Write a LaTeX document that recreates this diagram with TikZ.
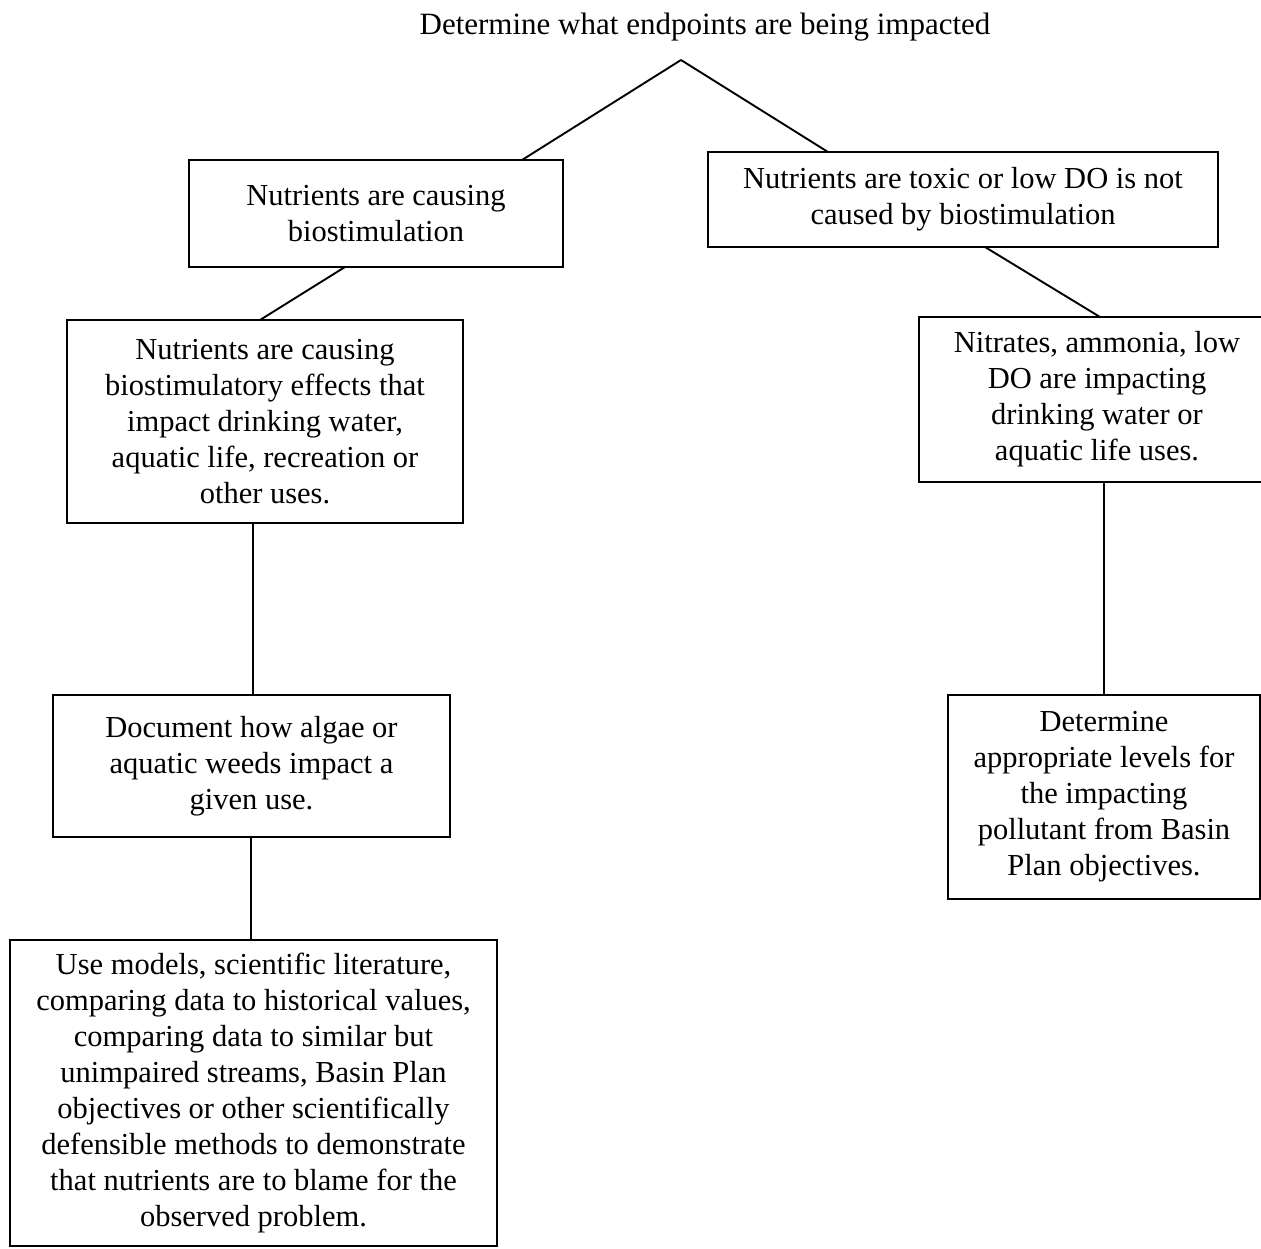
\documentclass[tikz,border=0pt]{standalone}
\usepackage{fontspec}
\setmainfont{Liberation Serif}
\begin{document}
\begin{tikzpicture}[x=1pt,y=-1pt,
  box/.style={draw=black, line width=1.9pt, rectangle, inner sep=0pt, outer sep=0pt, align=center,
    font=\fontsize{30.5}{36}\selectfont},
  link/.style={draw=black, line width=1.9pt},
  titletext/.style={inner sep=0pt, font=\fontsize{31}{36}\selectfont}]
\clip (0,0) rectangle (1261,1248);
\fill[white] (0,0) rectangle (1261,1248);
\node[titletext] (title) at (705,27) {Determine what endpoints are being impacted};
\coordinate (apex) at (681,60);
\node[box, minimum width=374pt, minimum height=107pt] (b1) at (376,213.5)
  {Nutrients are causing\\biostimulation};
\node[box, minimum width=510pt, minimum height=95pt] (b2) at (963,199.5)
  {Nutrients are toxic or low DO is not\\caused by biostimulation};
\node[box, minimum width=396pt, minimum height=203pt] (b3) at (265,421.5)
  {Nutrients are causing\\biostimulatory effects that\\impact drinking water,\\aquatic life, recreation or\\other uses.};
\node[box, minimum width=356pt, minimum height=165pt] (b4) at (1097,399.5)
  {Nitrates, ammonia, low\\DO are impacting\\drinking water or\\aquatic life uses.};
\node[box, minimum width=397pt, minimum height=142pt] (b5) at (251.5,766)
  {Document how algae or\\aquatic weeds impact a\\given use.};
\node[box, minimum width=487pt, minimum height=306pt] (b6) at (253.5,1093)
  {Use models, scientific literature,\\comparing data to historical values,\\comparing data to similar but\\unimpaired streams, Basin Plan\\objectives or other scientifically\\defensible methods to demonstrate\\that nutrients are to blame for the\\observed problem.};
\node[box, minimum width=312pt, minimum height=204pt] (b7) at (1104,797)
  {Determine\\appropriate levels for\\the impacting\\pollutant from Basin\\Plan objectives.};
\draw[link] (apex) -- ([xshift=146pt]b1.north);
\draw[link] (apex) -- ([xshift=-135pt]b2.north);
\draw[link] ([xshift=-31pt]b1.south) -- ([xshift=-5pt]b3.north);
\draw[link] ([xshift=22pt]b2.south) -- ([xshift=3pt]b4.north);
\draw[link] ([xshift=-12pt]b3.south) -- ([xshift=1.5pt]b5.north);
\draw[link] ([xshift=-0.5pt]b5.south) -- ([xshift=-2.5pt]b6.north);
\draw[link] ([xshift=7pt]b4.south) -- (b7.north);
\end{tikzpicture}
\end{document}
